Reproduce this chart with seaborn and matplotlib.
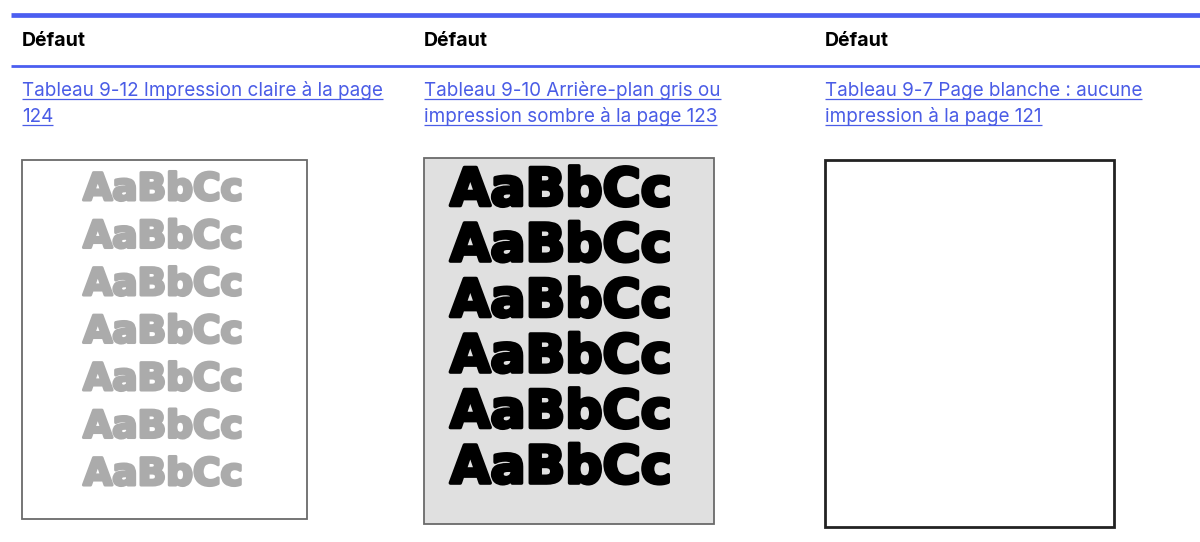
import matplotlib
matplotlib.use("Agg")
import matplotlib.pyplot as plt
import matplotlib.patheffects as pe
from matplotlib.patches import Rectangle
import seaborn as sns

# column content
headers = ["Défaut", "Défaut", "Défaut"]
link_lines = [
    ["Tableau 9-12 Impression claire à la page", "124"],
    ["Tableau 9-10 Arrière-plan gris ou", "impression sombre à la page 123"],
    ["Tableau 9-7 Page blanche : aucune", "impression à la page 121"],
]
sample_text = "AaBbCc"
sample_rows = [7, 6, 0]
sample_colors = ["#ababab", "#000000", "#000000"]
page_fills = ["#ffffff", "#e0e0e0", "#ffffff"]
page_edges = ["#6a6a6a", "#6a6a6a", "#222222"]

# layout (pixels)
W, H = 1200, 542
col_x = [22, 424, 825]
page_boxes = [(22, 160, 285, 359), (424, 158, 290, 366), (825, 160, 289, 367)]
page_lw = [1.3, 1.3, 2.0]
row_first = [190, 191.5, 0]
row_step = [47.5, 55.5, 0]
row_size = [27, 37.5, 0]
row_stroke = [2.2, 2.6, 0]
row_cx = [163, 561, 0]

BLUE = "#4b5ef0"
LINK = "#4a5ce6"

sns.set_theme(style="white")
plt.rcParams["font.family"] = ["Inter", "DejaVu Sans"]

fig = plt.figure(figsize=(W / 100, H / 100), dpi=100)
ax = fig.add_axes([0, 0, 1, 1])
ax.set_xlim(0, W)
ax.set_ylim(H, 0)
ax.axis("off")

# table rules
ax.plot([11, W], [14.5, 14.5], color=BLUE, lw=3.4, solid_capstyle="butt")
ax.plot([11, W], [65.5, 65.5], color=BLUE, lw=2.0, solid_capstyle="butt")

fig.canvas.draw()
renderer = fig.canvas.get_renderer()

for i in range(3):
    x0 = col_x[i]
    ax.text(x0, 46, headers[i], fontsize=14, fontweight="bold",
            color="black", va="baseline", ha="left")
    for j, line in enumerate(link_lines[i]):
        yb = 96.5 + j * 25.5
        t = ax.text(x0, yb, line, fontsize=13.6, color=LINK,
                    va="baseline", ha="left")
        bb = t.get_window_extent(renderer=renderer)
        ax.plot([x0, x0 + bb.width], [yb + 2.5, yb + 2.5], color=LINK,
                lw=0.9, solid_capstyle="butt")

    bx, by, bw, bh = page_boxes[i]
    ax.add_patch(Rectangle((bx, by), bw, bh, facecolor=page_fills[i],
                           edgecolor=page_edges[i], lw=page_lw[i]))
    for r in range(sample_rows[i]):
        yc = row_first[i] + r * row_step[i]
        ax.text(row_cx[i], yc, sample_text, fontsize=row_size[i],
                fontweight="bold", family=["DejaVu Sans"],
                color=sample_colors[i], ha="center", va="center",
                path_effects=[pe.withStroke(linewidth=row_stroke[i],
                                            foreground=sample_colors[i])])

fig.savefig("out.png", dpi=100)
